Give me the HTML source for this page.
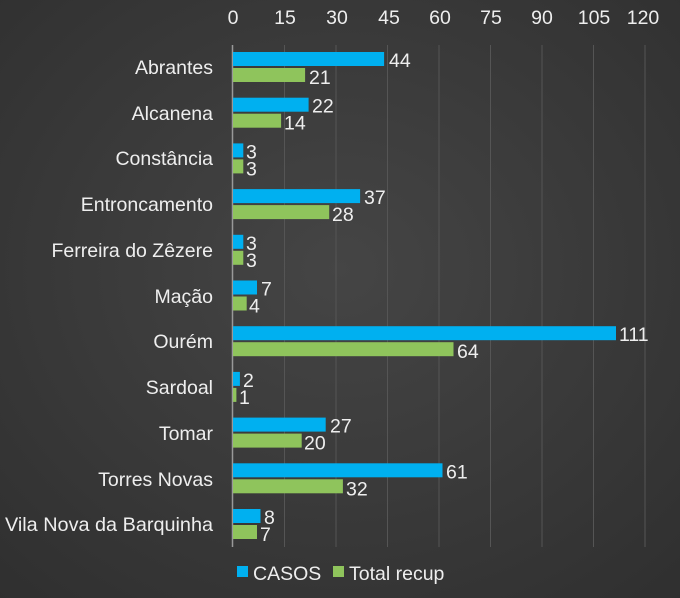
<!DOCTYPE html>
<html><head><style>body{margin:0}svg{display:block}text{font-family:"Liberation Sans",sans-serif;fill:#eee}</style></head><body>
<svg width="680" height="598" xmlns="http://www.w3.org/2000/svg">
<defs><radialGradient id="bg" cx="50%" cy="45%" r="75%"><stop offset="0" stop-color="#454545"/><stop offset="1" stop-color="#2f2f2f"/></radialGradient></defs>
<rect width="680" height="598" fill="url(#bg)"/>
<g stroke="#555" stroke-width="1">
<line x1="284.5" y1="45" x2="284.5" y2="547"/><line x1="336" y1="45" x2="336" y2="547"/><line x1="387.5" y1="45" x2="387.5" y2="547"/><line x1="439" y1="45" x2="439" y2="547"/><line x1="490.5" y1="45" x2="490.5" y2="547"/><line x1="542" y1="45" x2="542" y2="547"/><line x1="593.5" y1="45" x2="593.5" y2="547"/><line x1="645" y1="45" x2="645" y2="547"/>
</g>
<line x1="232.5" y1="45" x2="232.5" y2="547" stroke="#999" stroke-width="1.5"/>
<g font-size="19.5" text-anchor="middle">
<text x="233" y="24">0</text><text x="285" y="24">15</text><text x="337" y="24">30</text><text x="389" y="24">45</text><text x="440" y="24">60</text><text x="491" y="24">75</text><text x="542" y="24">90</text><text x="594" y="24">105</text><text x="643" y="24">120</text>
</g>
<g fill="#00b0f0">
<rect x="233" y="52" width="151.1" height="14"/>
<rect x="233" y="97.7" width="75.6" height="14"/>
<rect x="233" y="143.4" width="10.3" height="14"/>
<rect x="233" y="189.1" width="127.1" height="14"/>
<rect x="233" y="234.8" width="10.3" height="14"/>
<rect x="233" y="280.5" width="24" height="14"/>
<rect x="233" y="326.2" width="383" height="14"/>
<rect x="233" y="371.9" width="6.9" height="14"/>
<rect x="233" y="417.6" width="92.7" height="14"/>
<rect x="233" y="463.3" width="209.5" height="14"/>
<rect x="233" y="509" width="27.5" height="14"/>
</g>
<g fill="#8fc45c">
<rect x="233" y="68" width="72.1" height="14"/>
<rect x="233" y="113.7" width="48.1" height="14"/>
<rect x="233" y="159.4" width="10.3" height="14"/>
<rect x="233" y="205.1" width="96.2" height="14"/>
<rect x="233" y="250.8" width="10.3" height="14"/>
<rect x="233" y="296.5" width="13.7" height="14"/>
<rect x="233" y="342.2" width="220.5" height="14"/>
<rect x="233" y="387.9" width="3.4" height="14"/>
<rect x="233" y="433.6" width="68.7" height="14"/>
<rect x="233" y="479.3" width="109.9" height="14"/>
<rect x="233" y="525" width="24" height="14"/>
</g>
<g font-size="19.5">
<text x="389" y="67">44</text><text x="309" y="84">21</text>
<text x="312" y="112.7">22</text><text x="284" y="129.7">14</text>
<text x="246" y="158.4">3</text><text x="246" y="175.4">3</text>
<text x="364" y="204.1">37</text><text x="332" y="221.1">28</text>
<text x="246" y="249.8">3</text><text x="246" y="266.8">3</text>
<text x="261" y="295.5">7</text><text x="249" y="312.5">4</text>
<text x="619" y="341.2">111</text><text x="457" y="358.2">64</text>
<text x="243" y="386.9">2</text><text x="239" y="403.9">1</text>
<text x="330" y="432.6">27</text><text x="304" y="449.6">20</text>
<text x="446" y="478.3">61</text><text x="346" y="495.3">32</text>
<text x="264" y="524">8</text><text x="260" y="541">7</text>
</g>
<g font-size="19.5" text-anchor="end">
<text x="213" y="74">Abrantes</text><text x="213" y="120">Alcanena</text><text x="213" y="165">Constância</text><text x="213" y="211">Entroncamento</text><text x="213" y="257">Ferreira do Zêzere</text><text x="213" y="303">Mação</text><text x="213" y="348">Ourém</text><text x="213" y="394">Sardoal</text><text x="213" y="440">Tomar</text><text x="213" y="486">Torres Novas</text><text x="213" y="531" textLength="208" lengthAdjust="spacingAndGlyphs">Vila Nova da Barquinha</text>
</g>
<rect x="237" y="566" width="11" height="11" fill="#00b0f0"/><text x="253" y="580" font-size="19.5">CASOS</text>
<rect x="333" y="566" width="11" height="11" fill="#8fc45c"/><text x="349" y="580" font-size="19.5">Total recup</text>
</svg>
</body></html>
